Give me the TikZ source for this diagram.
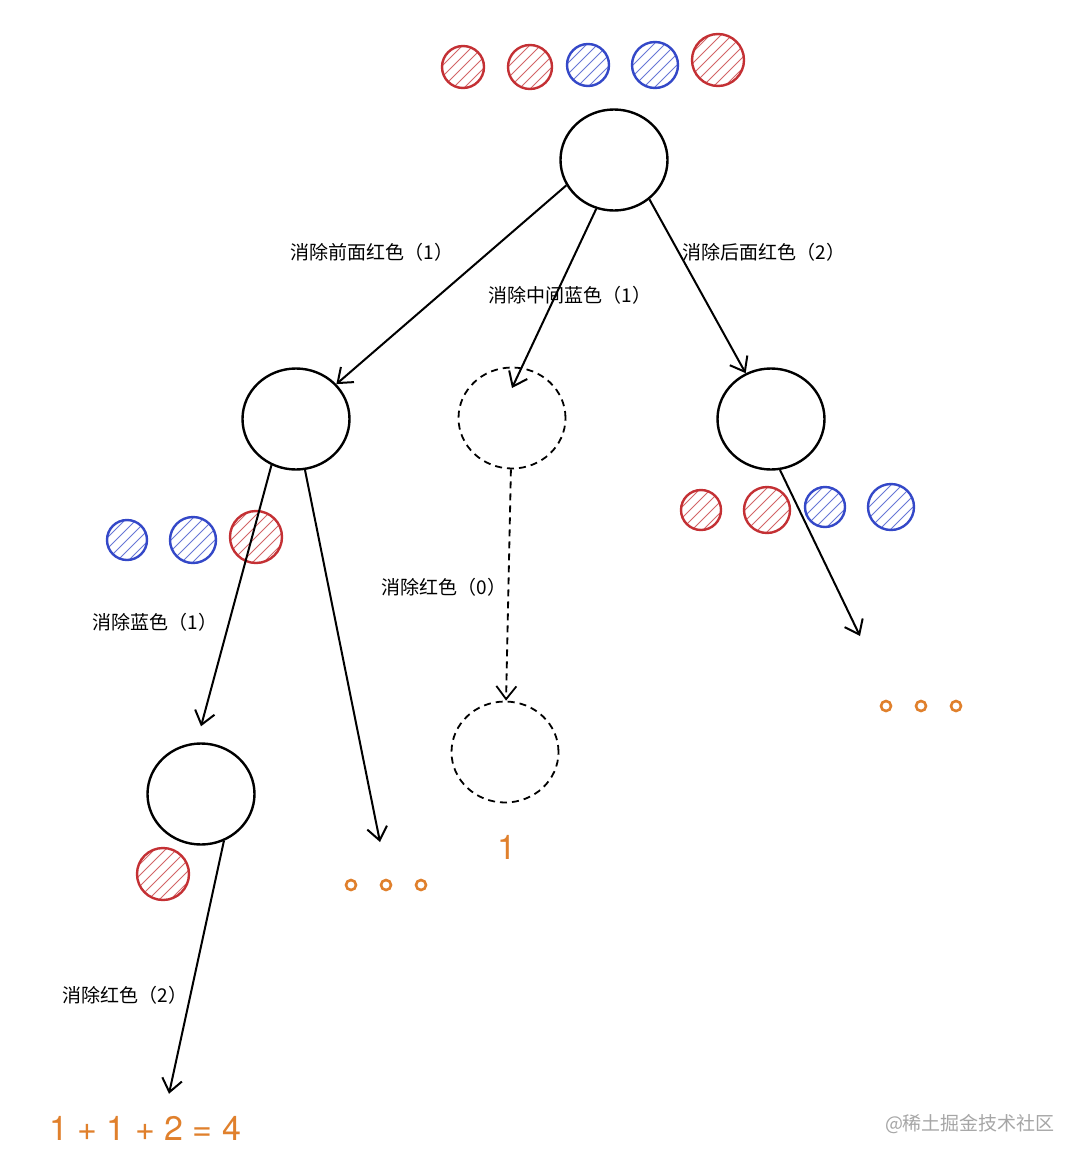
\documentclass[tikz,border=0pt]{standalone}
\usepackage{fontspec}
\setmainfont{TeX Gyre Heros}
\newfontfamily\cjk{Noto Sans CJK SC}
\usetikzlibrary{shapes.geometric, arrows.meta, positioning}
\definecolor{ballred}{RGB}{196,48,52}
\definecolor{ballblue}{RGB}{52,72,200}
\definecolor{total}{RGB}{224,128,44}

\begin{document}
\begin{tikzpicture}[
      x=1pt, y=-1pt,
      state/.style={ellipse, draw, line width=2.4pt, minimum width=107pt,
                    minimum height=101pt, inner sep=0pt},
      ghost/.style={state, line width=1.8pt, dash pattern=on 7pt off 5pt},
      ball/.style={circle, draw=#1, line width=2.4pt, minimum size=42pt, inner sep=0pt,
                   path picture={\foreach \k in {-55,-44,...,55}
                     \draw[#1!75, line width=1pt]
                       ([xshift=\k pt]path picture bounding box.south west) -- ++(70pt,70pt);}},
      lbl/.style={font=\cjk\fontsize{19}{21}\selectfont, text=black},
      dot/.style={circle, draw=total, line width=2.6pt, minimum size=10pt, inner sep=0pt},
      big/.style={font=\fontsize{34}{36}\selectfont, text=total, inner sep=0pt},
      arr/.style={-{Straight Barb[length=13pt, width=20pt]}, line width=2pt}
    ]
    \useasboundingbox[fill=white] (0,0) rectangle (1080,1164);

    \node[state] (root)  at (614,160) {};
    \node[state] (left)  at (296,419) {};
    \node[ghost] (mid)   at (512,418) {};
    \node[state] (right) at (771,419) {};
    \node[state] (ll)    at (201,794) {};
    \node[ghost] (midb)  at (505,752) {};

    \node[ball=ballred]                     (t1) at (463,67) {};
    \node[ball=ballred, minimum size=44pt]  (t2) at (530,67) {};
    \node[ball=ballblue]                    (t3) at (588,65) {};
    \node[ball=ballblue, minimum size=46pt] (t4) at (655,65) {};
    \node[ball=ballred, minimum size=52pt]  (t5) at (718,60) {};

    \node[ball=ballblue, minimum size=40pt] (l1) at (127,540) {};
    \node[ball=ballblue, minimum size=46pt] (l2) at (193,540) {};
    \node[ball=ballred, minimum size=52pt]  (l3) at (256,537) {};

    \node[ball=ballred, minimum size=40pt]  (r1) at (701,510) {};
    \node[ball=ballred, minimum size=46pt]  (r2) at (767,510) {};
    \node[ball=ballblue, minimum size=40pt] (r3) at (825,507) {};
    \node[ball=ballblue, minimum size=46pt] (r4) at (891,507) {};

    \node[ball=ballred, minimum size=52pt]  (b1) at (163,874) {};

    \node[lbl] (e1) at (372,252) {消除前面红色（1）};
    \node[lbl] (e2) at (570,295) {消除中间蓝色（1）};
    \node[lbl] (e3) at (764,252) {消除后面红色（2）};
    \node[lbl] (e4) at (444,587) {消除红色（0）};
    \node[lbl] (e5) at (155,622) {消除蓝色（1）};
    \node[lbl] (e6) at (125,995) {消除红色（2）};

    \foreach \i/\x in {1/351, 2/386, 3/421}
      \node[dot] (dl\i) at (\x,885) {};
    \foreach \i/\x in {1/886, 2/921, 3/956}
      \node[dot] (dr\i) at (\x,706) {};
    \coordinate (tipL) at (380,842);
    \coordinate (tipR) at (860,636);

    \node[big] (one) at (507,847) {1};
    \node[big] (sum) at (145,1128) {1 + 1 + 2 = 4};
    \node[font=\cjk\fontsize{19}{20}\selectfont, text=black!35] (mark) at (970,1124) {@稀土掘金技术社区};

    \draw[arr] (root.208) -- (left);
    \draw[arr] (root.250) -- ([yshift=30pt]mid.center);
    \draw[arr] (root.312) -- (right);
    \draw[arr] (left.242) -- ([yshift=16pt]ll.north);
    \draw[arr] (left.280) -- (tipL);
    \draw[arr, line width=1.8pt, dash pattern=on 7pt off 5pt] (mid) -- (midb);
    \draw[arr] (right.280) -- (tipR);
    \draw[arr] (ll.296) -- ([xshift=24pt, yshift=22pt]sum.north);
  \end{tikzpicture}
\end{document}
